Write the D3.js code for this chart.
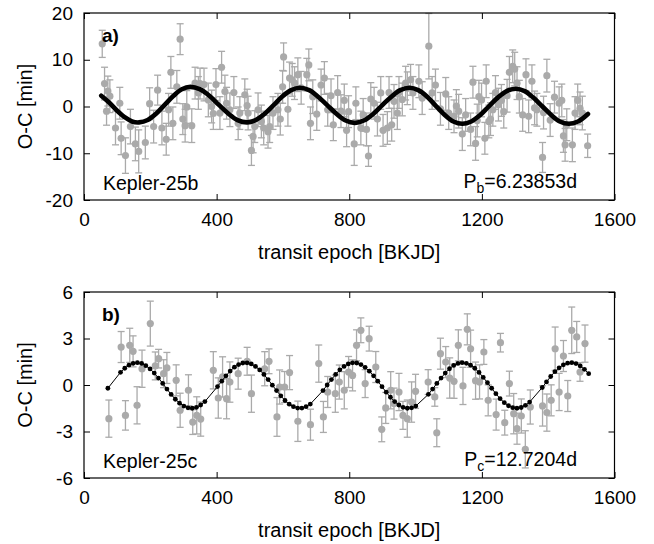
<!DOCTYPE html>
<html>
<head>
<meta charset="utf-8">
<script src="https://cdnjs.cloudflare.com/ajax/libs/d3/7.8.5/d3.min.js"></script>
<style>
  body { margin: 0; background: #fff; }
  svg text { font-family: "Liberation Sans", Arial, Helvetica, sans-serif; fill: #000; }
  .tick line { stroke: #000; }
</style>
</head>
<body>
<div id="chart"></div>
<script>
// axis setup (both panels share the x range)
const xDomain = [0, 1600];
const xTicks = [0, 400, 800, 1200, 1600];
const yDomainB = [-20, 20];
const yTicksB = [-20, -10, 0, 10, 20];
const yDomainC = [-6, 6];
const yTicksC = [-6, -3, 0, 3, 6];

// Kepler-25b: observed O-C [epoch, O-C, error] in minutes
const obsB = [
  [55,13.4,2.9],[62,4.9,3.5],[68,-1.0,3.0],[72,3.3,3.2],[78,2.2,3.5],[95,-4.6,3.6],
  [108,0.7,3.4],[112,-6.8,3.5],[125,-10.5,3.8],[140,-4.3,3.7],[155,-8.0,3.6],[165,-9.6,4.6],
  [185,-7.7,3.5],[198,0.6,3.4],[210,-4.3,3.5],[222,3.5,3.2],[235,-4.6,3.6],[248,-7.0,3.4],
  [255,-0.7,3.5],[262,7.3,3.4],[268,-3.6,3.5],[280,4.2,3.5],[290,14.4,3.3],[298,-2.7,3.3],
  [305,-4.1,3.5],[310,-0.1,3.5],[325,-4.1,3.6],[335,5.0,3.4],[345,2.9,3.5],[350,4.9,3.3],
  [362,4.7,3.5],[375,1.4,3.6],[385,0.0,3.5],[390,-1.5,3.4],[398,4.7,3.4],[410,-1.4,3.5],
  [415,8.4,3.4],[425,3.2,3.5],[430,0.7,3.4],[440,-0.7,3.6],[452,3.0,3.4],[465,-3.6,3.5],
  [470,-1.4,3.5],[485,2.5,3.4],[492,0.2,3.5],[495,-1.4,3.6],[505,-9.4,3.2],[510,-6.4,3.5],
  [515,-4.3,3.4],[525,-0.7,3.6],[535,-3.2,3.5],[542,-4.6,3.6],[555,-5.4,3.5],[560,-4.3,3.4],
  [570,-1.4,3.5],[585,-0.7,3.5],[592,-2.7,3.4],[599,4.2,3.5],[602,10.6,3.0],[615,-0.6,3.6],
  [620,6.1,3.4],[628,5.7,3.5],[635,5.0,3.5],[645,6.8,3.6],[655,4.0,3.5],[672,6.8,3.5],
  [678,8.9,3.4],[683,-3.6,3.5],[690,2.1,3.6],[702,-1.6,3.5],[715,4.6,3.4],[725,6.1,3.5],
  [735,-0.7,3.5],[745,2.3,3.6],[752,-3.9,3.4],[765,3.0,3.6],[775,-1.0,3.5],[785,1.3,3.5],
  [792,-5.1,3.5],[798,-1.1,3.4],[815,-8.0,4.6],[820,0.7,3.5],[835,-4.6,3.6],[842,-1.8,3.5],
  [852,-4.9,3.5],[858,-10.6,2.2],[865,1.6,3.5],[875,0.7,3.4],[885,-2.7,3.6],[895,2.9,3.5],
  [902,-5.1,3.4],[915,-4.6,3.5],[920,3.0,3.4],[928,-3.9,3.5],[935,1.1,3.6],[945,-1.4,3.5],
  [950,3.0,3.4],[960,1.5,3.5],[970,5.0,3.6],[975,3.9,3.5],[985,5.7,3.3],[992,2.9,3.5],
  [1010,5.4,3.5],[1020,1.8,3.5],[1040,12.9,7.0],[1050,2.9,3.5],[1060,4.6,3.4],[1075,-0.5,3.5],
  [1091,2.7,3.5],[1100,-1.4,3.5],[1116,-2.1,3.5],[1123,0.1,3.5],[1130,-1.0,3.6],[1141,-5.9,3.5],
  [1151,-1.8,3.5],[1166,-4.9,3.5],[1173,5.2,3.4],[1181,-7.9,3.6],[1186,-3.0,3.5],[1191,2.1,3.5],
  [1199,1.4,3.6],[1209,-6.8,3.4],[1213,5.4,3.5],[1221,-3.2,3.5],[1226,-2.7,3.5],[1233,-0.7,3.5],
  [1241,3.0,3.6],[1250,0.4,3.5],[1259,1.3,3.4],[1266,-1.1,3.5],[1276,2.3,3.5],[1283,7.3,3.4],
  [1293,8.6,3.5],[1299,8.0,3.6],[1306,5.0,3.5],[1313,2.1,3.5],[1323,-1.8,3.5],[1333,6.8,3.4],
  [1341,-2.1,3.5],[1351,5.4,3.5],[1359,-0.3,3.6],[1366,-0.7,3.5],[1383,-10.9,3.2],[1386,-1.3,3.5],
  [1396,6.6,3.5],[1406,-2.9,3.5],[1419,2.0,3.4],[1433,0.7,3.5],[1441,1.3,3.5],[1446,-6.3,3.5],
  [1451,-8.2,3.5],[1456,-3.9,3.4],[1473,-8.2,3.6],[1481,-1.4,3.5],[1489,1.3,3.5],[1496,-0.4,3.5],
  [1503,-1.4,3.6],[1519,-8.4,2.5]
];

// Kepler-25b: model O-C [epoch, O-C]
const modelB = [
  [52,2.3],[75,0.9],[100,-0.9],[125,-2.4],[145,-3.2],[166,-3.4],[192,-2.9],[218,-1.5],
  [244,0.4],[270,2.3],[295,3.7],[321,4.2],[349,3.7],[378,2.3],[406,0.4],[435,-1.5],
  [463,-2.9],[492,-3.4],[518,-2.9],[545,-1.55],[572,0.3],[598,2.15],[625,3.5],[651,4.0],
  [679,3.5],[706,2.1],[734,0.25],[762,-1.6],[789,-3.0],[817,-3.5],[844,-3.0],[872,-1.6],
  [899,0.25],[927,2.1],[954,3.5],[982,4.0],[1008,3.5],[1035,2.1],[1061,0.15],[1088,-1.8],
  [1114,-3.2],[1141,-3.7],[1168,-3.2],[1195,-1.8],[1221,0.05],[1248,1.9],[1275,3.3],[1302,3.8],
  [1329,3.3],[1355,1.9],[1382,0.05],[1409,-1.8],[1435,-3.2],[1462,-3.7],[1490,-3.2],[1520,-1.6]
];

// Kepler-25c: observed O-C [epoch, O-C, error]
const obsC = [
  [75,-2.17,1.2],[112,2.45,1.0],[125,-1.96,0.95],[138,2.56,1.1],[148,2.17,1.0],[160,-1.31,1.2],
  [175,1.05,1.2],[200,3.96,1.45],[215,1.23,0.9],[225,1.70,0.6],[240,0.73,0.9],[250,1.10,1.0],
  [278,0.30,1.0],[290,-1.63,1.1],[315,-0.34,1.0],[328,-2.39,0.8],[340,-1.96,1.2],[352,-2.20,1.1],
  [390,0.95,1.2],[405,-0.84,1.3],[418,0.52,1.3],[430,-0.88,1.3],[440,0.19,1.3],[465,0.73,1.0],
  [492,1.53,0.9],[505,-0.56,1.2],[545,1.05,1.1],[558,1.53,0.8],[582,-2.06,1.25],[590,-0.13,1.1],
  [605,-0.13,1.0],[620,0.80,1.1],[645,-2.34,1.3],[683,-2.56,1.0],[708,1.38,1.2],[722,-2.06,1.0],
  [735,-0.45,1.0],[758,-0.56,1.2],[770,0.19,1.1],[785,-0.34,1.2],[798,0.84,1.0],[810,0.62,1.0],
  [822,2.56,1.0],[835,3.53,0.8],[848,0.09,0.9],[860,2.99,0.8],[880,1.16,1.0],[898,-2.86,0.8],
  [910,-1.48,1.0],[925,-0.34,1.2],[935,-1.2,1.0],[950,-0.45,1.2],[962,-1.96,0.9],[975,-2.17,1.2],
  [988,-1.10,1.3],[1000,-0.41,1.1],[1038,0.19,0.8],[1058,-0.77,0.6],[1064,-3.08,0.9],[1075,2.02,1.0],
  [1091,1.48,1.0],[1103,0.45,1.3],[1116,0.24,1.1],[1129,2.56,1.0],[1143,-0.06,1.2],[1156,3.59,1.0],
  [1166,2.34,1.2],[1181,0.28,1.2],[1193,0.20,1.1],[1206,2.13,0.8],[1219,-0.99,1.0],[1243,-1.91,1.0],
  [1256,2.73,0.6],[1269,-2.43,0.8],[1283,0.09,0.8],[1296,-1.85,1.3],[1306,-2.82,1.0],[1319,-2.00,1.1],
  [1331,-4.15,1.2],[1346,-1.42,1.1],[1383,-1.35,1.3],[1396,-1.78,1.2],[1409,-0.99,1.0],[1421,2.34,1.4],
  [1433,-0.45,1.2],[1446,1.87,1.0],[1459,-0.71,1.0],[1471,3.53,1.5],[1486,3.10,1.0],[1496,0.84,0.6],
  [1511,2.67,1.2]
];

// Kepler-25c: model O-C at each transit
const modelC = [
  [72.0,-0.21],[110.2,0.82],[122.9,1.08],[135.6,1.28],[148.3,1.40],[161.0,1.44],[173.8,1.39],
  [186.5,1.25],[199.2,1.04],[211.9,0.77],[224.6,0.45],[237.4,0.10],[250.1,-0.26],[262.8,-0.61],
  [275.5,-0.92],[288.2,-1.17],[301.0,-1.36],[313.7,-1.47],[326.4,-1.50],[339.1,-1.44],[351.8,-1.29],
  [364.6,-1.07],[402.7,-0.10],[415.4,0.25],[428.2,0.59],[440.9,0.90],[453.6,1.15],[466.3,1.32],
  [479.0,1.42],[491.8,1.43],[504.5,1.36],[517.2,1.20],[529.9,0.97],[542.6,0.68],[555.4,0.35],
  [568.1,-0.01],[580.8,-0.36],[593.5,-0.70],[606.2,-1.00],[619.0,-1.24],[631.7,-1.40],[644.4,-1.49],
  [657.1,-1.49],[669.8,-1.40],[682.6,-1.23],[720.7,-0.36],[733.4,0.00],[746.2,0.35],[758.9,0.68],
  [771.6,0.98],[784.3,1.20],[797.0,1.36],[809.8,1.43],[822.5,1.42],[835.2,1.32],[847.9,1.14],
  [860.6,0.89],[873.4,0.59],[886.1,0.25],[898.8,-0.11],[911.5,-0.46],[924.2,-0.79],[937.0,-1.07],
  [949.7,-1.29],[962.4,-1.44],[975.1,-1.50],[987.8,-1.47],[1000.6,-1.36],[1038.7,-0.60],[1051.4,-0.26],
  [1064.2,0.10],[1076.9,0.45],[1089.6,0.77],[1102.3,1.05],[1115.0,1.26],[1127.8,1.39],[1140.5,1.44],
  [1153.2,1.40],[1165.9,1.28],[1178.6,1.08],[1191.4,0.81],[1204.1,0.49],[1216.8,0.15],[1229.5,-0.21],
  [1242.2,-0.56],[1255.0,-0.88],[1267.7,-1.14],[1280.4,-1.34],[1293.1,-1.46],[1305.8,-1.50],[1318.6,-1.45],
  [1331.3,-1.31],[1344.0,-1.10],[1382.2,-0.16],[1394.9,0.20],[1407.6,0.55],[1420.3,0.86],[1433.0,1.11],
  [1445.8,1.30],[1458.5,1.41],[1471.2,1.44],[1483.9,1.38],[1496.6,1.23],[1509.4,1.01],[1522.1,0.73]
];

const W = 654, H = 544;
const left = 84, right = 614.5;
const grey = '#aaaaaa';
const plain = d => String(d);   // gnuplot style: "1600", "-20"

let svg = d3.select('#chart').append('svg')
    .attr('width', W)
    .attr('height', H);

function drawPanel(p) {
    let x = d3.scaleLinear().domain(xDomain).range([left, right]);
    let y = d3.scaleLinear().domain(p.yDomain).range([p.bottom, p.top]);
    let g = svg.append('g');

    // inward ticks on all four sides
    g.append('g').attr('transform', `translate(0,${p.bottom})`)
        .call(d3.axisBottom(x).tickValues(xTicks).tickSize(-6).tickSizeOuter(0)
            .tickPadding(12.5).tickFormat(plain));
    g.append('g').attr('transform', `translate(0,${p.top})`)
        .call(d3.axisTop(x).tickValues(xTicks).tickSize(-6).tickSizeOuter(0).tickFormat(''));
    g.append('g').attr('transform', `translate(${left},0)`)
        .call(d3.axisLeft(y).tickValues(p.yTicks).tickSize(-6).tickSizeOuter(0)
            .tickPadding(11).tickFormat(plain));
    g.append('g').attr('transform', `translate(${right},0)`)
        .call(d3.axisRight(y).tickValues(p.yTicks).tickSize(-6).tickSizeOuter(0).tickFormat(''));
    g.selectAll('.domain').remove();
    g.selectAll('g[font-size]').attr('font-size', null).attr('font-family', null);
    g.selectAll('.tick text').attr('font-size', 19);

    // observed points with error bars
    let obs = g.append('g').selectAll('g').data(p.obs).enter().append('g');
    obs.append('line')
        .attr('x1', d => x(d[0])).attr('x2', d => x(d[0]))
        .attr('y1', d => y(d[1] - d[2])).attr('y2', d => y(d[1] + d[2]))
        .attr('stroke', grey).attr('stroke-width', 1.3);
    obs.selectAll('.cap').data(d => [[d[0], d[1] - d[2]], [d[0], d[1] + d[2]]]).enter().append('line')
        .attr('x1', d => x(d[0]) - 3.5).attr('x2', d => x(d[0]) + 3.5)
        .attr('y1', d => y(d[1])).attr('y2', d => y(d[1]))
        .attr('stroke', grey).attr('stroke-width', 1.3);
    obs.append('circle')
        .attr('cx', d => x(d[0])).attr('cy', d => y(d[1]))
        .attr('r', 3.6).attr('fill', grey);

    // model
    let line = d3.line().x(d => x(d[0])).y(d => y(d[1]));
    if (p.dense) {
        line.curve(d3.curveCatmullRom);
        g.append('path').datum(p.model)
            .attr('d', line)
            .attr('fill', 'none').attr('stroke', '#000')
            .attr('stroke-width', 4.6).attr('stroke-linecap', 'round');
    } else {
        g.append('path').datum(p.model)
            .attr('d', line)
            .attr('fill', 'none').attr('stroke', '#000').attr('stroke-width', 1);
        g.append('g').selectAll('circle').data(p.model).enter().append('circle')
            .attr('cx', d => x(d[0])).attr('cy', d => y(d[1]))
            .attr('r', 2.4).attr('fill', '#000');
    }

    // frame
    g.append('rect')
        .attr('x', left).attr('y', p.top)
        .attr('width', right - left).attr('height', p.bottom - p.top)
        .attr('fill', 'none').attr('stroke', '#000').attr('stroke-width', 1.2);

    // labels
    g.append('text').attr('x', left + 18).attr('y', p.top + 29)
        .attr('font-size', 19).attr('font-weight', 'bold').text(p.tag);
    g.append('text').attr('x', left + 19).attr('y', p.bottom - 10)
        .attr('font-size', 19.5).text(p.name);
    let per = g.append('text').attr('x', 577).attr('y', p.bottom - 12)
        .attr('font-size', 19.5).attr('text-anchor', 'end');
    per.append('tspan').text('P');
    per.append('tspan').attr('font-size', 14).attr('dy', 5).text(p.sub);
    per.append('tspan').attr('dy', -5).text('=' + p.period);

    g.append('text')
        .attr('transform', `translate(32,${(p.top + p.bottom) / 2}) rotate(-90)`)
        .attr('text-anchor', 'middle').attr('font-size', 20).text('O-C [min]');
    g.append('text')
        .attr('x', (left + right) / 2).attr('y', p.bottom + 59)
        .attr('text-anchor', 'middle').attr('font-size', 20).text('transit epoch [BKJD]');
}

drawPanel({
    top: 13, bottom: 200, yDomain: yDomainB, yTicks: yTicksB,
    obs: obsB, model: modelB, dense: true,
    tag: 'a)', name: 'Kepler-25b', sub: 'b', period: '6.23853d'
});
drawPanel({
    top: 292, bottom: 478, yDomain: yDomainC, yTicks: yTicksC,
    obs: obsC, model: modelC, dense: false,
    tag: 'b)', name: 'Kepler-25c', sub: 'c', period: '12.7204d'
});
</script>
</body>
</html>
